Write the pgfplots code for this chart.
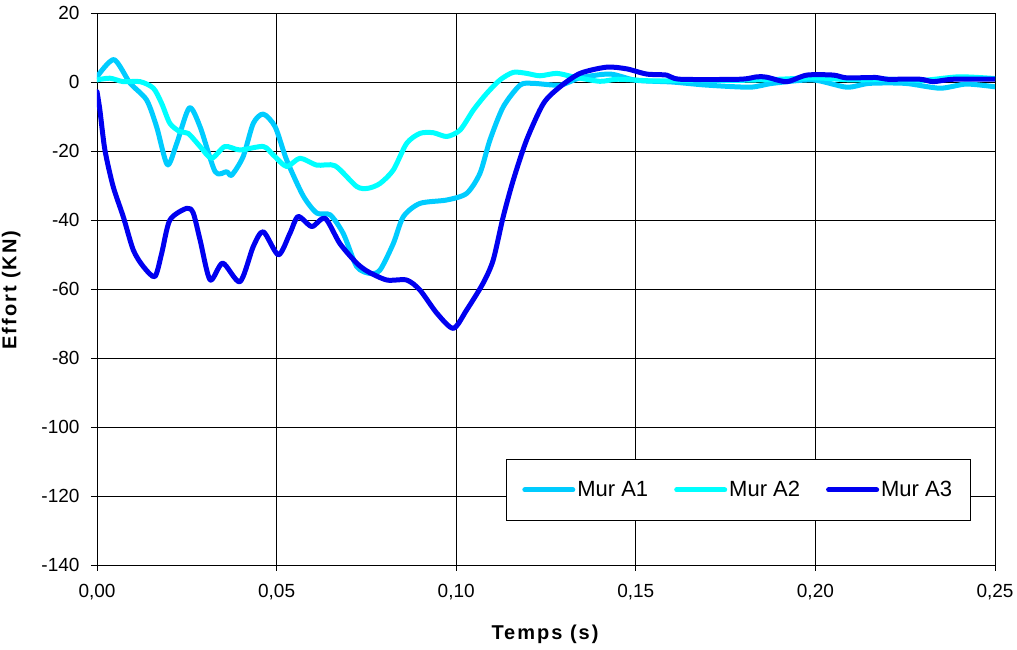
\documentclass[border=0pt]{standalone}
\usepackage{pgfplots}
\pgfplotsset{compat=1.18}
\usepackage{fontspec}
\setmainfont{Liberation Sans}
\definecolor{cA}{RGB}{0,204,255}
\definecolor{cB}{RGB}{0,255,255}
\definecolor{cC}{RGB}{0,0,240}
\begin{document}
\begin{tikzpicture}
\useasboundingbox (-97pt,-85pt) rectangle (920pt,565pt);
\begin{axis}[
  scale only axis,
  width=898pt, height=552pt,
  xmin=0, xmax=0.25, ymin=-140, ymax=20,
  xtick={0,0.05,0.1,0.15,0.2,0.25},
  ytick={-140,-120,-100,-80,-60,-40,-20,0,20},
  grid=major,
  major grid style={black, line width=0.8pt},
  axis line style={black, line width=0.8pt},
  tick style={black, line width=0.8pt},
  tick align=outside, major tick length=6pt,
  xtick pos=bottom, ytick pos=left,
  /pgf/number format/assume math mode=true,
  xticklabel={\pgfmathprintnumber[fixed,fixed zerofill,precision=2,use comma]{\tick}},
  yticklabel={\pgfmathprintnumber[fixed,precision=0]{\tick}},
  ticklabel style={font=\fontsize{19}{21}\selectfont},
  xticklabel style={yshift=-10pt},
  yticklabel style={xshift=-8pt},
  xlabel={\textbf{Temps (s)}},
  ylabel={\textbf{Effort (KN)}},
  label style={font=\fontsize{20}{22}\selectfont\addfontfeature{LetterSpace=10}},
  xlabel style={yshift=-18pt},
  ylabel style={yshift=14pt},
  legend columns=3,
  legend style={at={(0.714,0.136)}, anchor=center, draw=black, line width=0.8pt,
    inner xsep=16pt, inner ysep=20pt, font=\fontsize{22}{24}\selectfont,
    /tikz/every even column/.append style={column sep=24pt}},
  legend cell align=left,
  legend image code/.code={\draw[#1, line width=5pt, line cap=round] (0pt,0pt) -- (48pt,0pt);},
  every axis plot/.append style={line width=5pt, line cap=round, line join=round, smooth, tension=0.45},
]
\addplot[cA] coordinates {
(0,1.5) (0.0047,6.5) (0.0092,-0.3) (0.0138,-5.2) (0.0166,-13) (0.0196,-24) (0.0222,-17.8) (0.0257,-7.5) (0.0287,-13) (0.0329,-26) (0.0361,-26) (0.0375,-27) (0.0407,-21.6) (0.0435,-12) (0.0463,-9.3) (0.0496,-13) (0.0528,-22.6) (0.0574,-33) (0.0612,-38) (0.0649,-38.5) (0.0686,-44) (0.0723,-53.5) (0.0760,-55.5) (0.0788,-54.5) (0.0825,-46.8) (0.0853,-39) (0.0899,-35.2) (0.0974,-34.2) (0.1029,-32.3) (0.1066,-26.5) (0.1094,-16.8) (0.1131,-7.2) (0.1178,-0.9) (0.1215,-0.4) (0.1289,-0.9) (0.1345,1.2) (0.1428,2.3) (0.150,0.5) (0.16,0) (0.1697,-0.9) (0.1818,-1.5) (0.188,-0.4) (0.1993,0.6) (0.2087,-1.5) (0.215,-0.4) (0.225,-0.4) (0.2347,-1.8) (0.242,-0.6) (0.25,-1.4)
};
\addlegendentry{Mur A1}
\addplot[cB] coordinates {
(0,0.6) (0.0036,1.1) (0.0073,0.1) (0.012,0.1) (0.0157,-1.8) (0.018,-6.2) (0.0203,-12) (0.0231,-14.4) (0.0254,-14.9) (0.0287,-18.7) (0.0319,-22.1) (0.0356,-18.7) (0.0398,-19.7) (0.0463,-18.7) (0.0491,-21.2) (0.0528,-24.5) (0.0565,-22.1) (0.0612,-24.1) (0.0663,-24.3) (0.0723,-30.3) (0.0755,-30.8) (0.0788,-29.4) (0.0825,-25.5) (0.0862,-17.8) (0.0899,-14.9) (0.0936,-14.7) (0.0974,-15.8) (0.1011,-13.9) (0.1048,-8.1) (0.1085,-3.3) (0.1122,0.6) (0.1159,2.8) (0.1196,2.5) (0.1233,1.8) (0.128,2.5) (0.1326,1.5) (0.14,0.2) (0.145,0.8) (0.155,0.3) (0.165,0.5) (0.18,0.5) (0.19,0.8) (0.2,1.2) (0.21,0.6) (0.22,0.8) (0.23,0.5) (0.24,1.5) (0.25,1)
};
\addlegendentry{Mur A2}
\addplot[cC] coordinates {
(0,-2.8) (0.0008,-8.1) (0.0022,-19.7) (0.0045,-30.3) (0.0073,-39) (0.0101,-48.7) (0.0129,-53.5) (0.0161,-56.4) (0.018,-49.7) (0.0203,-40) (0.025,-36.6) (0.0268,-38) (0.0287,-45.8) (0.0315,-57.4) (0.035,-52.5) (0.0398,-57.9) (0.0435,-47.7) (0.0463,-43.4) (0.0505,-50.1) (0.0537,-43.9) (0.056,-39) (0.0598,-41.9) (0.0635,-39.5) (0.0676,-46.8) (0.0723,-52.5) (0.0755,-55) (0.0807,-57.4) (0.0862,-57.4) (0.0899,-60.3) (0.0946,-67) (0.0992,-71.4) (0.1029,-66.1) (0.1075,-58.3) (0.1103,-51.6) (0.1131,-39) (0.1159,-28.4) (0.1196,-16.8) (0.1243,-6.2) (0.1289,-1.4) (0.1345,2.5) (0.1419,4.3) (0.1475,3.8) (0.153,2.3) (0.1586,2.0) (0.1623,0.8) (0.179,0.8) (0.1837,1.5) (0.1864,1.4) (0.192,0.1) (0.1976,2.0) (0.205,2.0) (0.2087,1.2) (0.217,1.3) (0.2198,0.8) (0.2291,0.8) (0.2328,0.1) (0.2384,0.8) (0.25,0.8)
};
\addlegendentry{Mur A3}
\end{axis}
\end{tikzpicture}
\end{document}
